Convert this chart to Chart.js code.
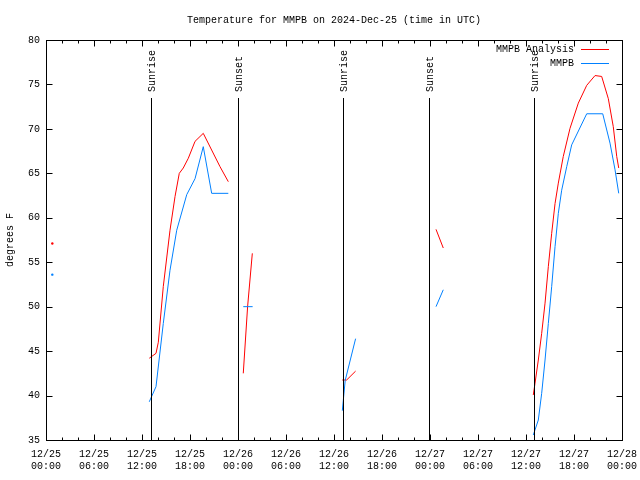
<!DOCTYPE html>
<html>
<head>
<meta charset="utf-8">
<script src="https://cdn.jsdelivr.net/npm/chart.js@4/dist/chart.umd.min.js"></script>
<style>
  html, body { margin: 0; padding: 0; background: #fff; }
  canvas { display: block; }
</style>
</head>
<body>
<canvas id="chart" width="640" height="480"></canvas>
<script>
// hours since 12/25 00:00 UTC; null temperature = gap in the record
const analysisHours = [0.79, 6, 12.91, 13.75, 14.04, 14.66, 15.5, 16.13, 16.66, 17.16,
  17.79, 18.63, 19.66, 21.75, 22.79, 23.5, 24.66, 25.2, 25.79, 30,
  37.04, 37.58, 38.7, 44, 48.75, 49.66, 55, 60.91, 61.13, 61.54,
  61.96, 62.38, 62.79, 63.21, 63.63, 64.04, 64.66, 65.5, 66.54, 67.59,
  68.63, 69.46, 70.29, 70.91, 71.34, 71.59];
const analysisTemps = [57.1, null, 44.2, 44.75, 46.0, 52.25, 58.6, 62.4, 65.0, 65.6,
  66.7, 68.6, 69.5, 65.75, 64.06, null, 42.5, 50.0, 56.0, null,
  41.75, 41.75, 42.75, null, 58.7, 56.6, null, 40.06, 41.4, 44.0,
  47.0, 50.4, 54.5, 58.25, 61.6, 63.9, 66.9, 70.06, 72.9, 74.9,
  76.0, 75.9, 73.4, 70.25, 66.9, 65.6];

const obsHours = [0.79, 6, 12.91, 13.75, 14.66, 15.5, 16.34, 17.59, 18.63, 19.66,
  20.71, 22.79, 23.5, 24.66, 25.83, 30, 37.04, 37.4, 38.7, 44,
  48.75, 49.66, 55, 60.91, 61.54, 61.96, 62.38, 62.79, 63.21, 63.63,
  64.04, 64.46, 65.09, 65.71, 67.59, 69.59, 70.5, 71.13, 71.59];
const obsTemps = [53.6, null, 39.3, 41.0, 48.1, 54.1, 58.6, 62.6, 64.4, 68.0,
  62.75, 62.75, null, 50.0, 50.0, null, 38.3, 41.7, 46.4, null,
  50.0, 51.9, null, 35.56, 37.25, 40.25, 44.0, 48.1, 52.25, 56.75,
  60.5, 63.1, 65.75, 68.2, 71.7, 71.7, 68.4, 65.4, 62.75];

const eventHours = [13.15, 24.03, 37.15, 47.91, 61.05];
const eventNames = ['Sunrise', 'Sunset', 'Sunrise', 'Sunset', 'Sunrise'];

const FONT = { family: "'Liberation Mono', 'DejaVu Sans Mono', monospace", size: 10 };
Chart.defaults.color = '#000';
Chart.defaults.font.family = FONT.family;
Chart.defaults.font.size = FONT.size;

function points(hours, temps) {
  return hours.map((h, i) => ({ x: h, y: temps[i] }));
}

// a lone reading between gaps gets a dot, otherwise no markers
function loneDot(ctx) {
  const d = ctx.dataset.data;
  const i = ctx.dataIndex;
  if (d[i].y == null) return 0;
  const prev = i > 0 ? d[i - 1].y : null;
  const next = i < d.length - 1 ? d[i + 1].y : null;
  return prev == null && next == null ? 1.2 : 0;
}

function tickLabel(v) {
  const day = 25 + Math.floor(v / 24);
  const hr = v % 24;
  return ['12/' + day, String(hr).padStart(2, '0') + ':00'];
}

const frame = {
  id: 'frame',
  afterDatasetsDraw(chart) {
    const { ctx, chartArea: a, scales: { x, y } } = chart;
    ctx.save();
    ctx.strokeStyle = '#000';
    ctx.lineWidth = 1;

    // sunrise / sunset markers
    ctx.fillStyle = '#000';
    ctx.font = FONT.size + 'px ' + FONT.family;
    eventHours.forEach((h, i) => {
      const px = Math.round(x.getPixelForValue(h)) + 0.5;
      ctx.beginPath();
      ctx.moveTo(px, a.top + 58);
      ctx.lineTo(px, a.bottom);
      ctx.stroke();
      ctx.save();
      ctx.translate(px + 1, a.top + 52);
      ctx.rotate(-Math.PI / 2);
      ctx.textAlign = 'left';
      ctx.textBaseline = 'middle';
      ctx.fillText(eventNames[i], 0, 0);
      ctx.restore();
    });

    // border box
    const l = Math.round(a.left) + 0.5, r = Math.round(a.right) + 0.5;
    const t = Math.round(a.top) + 0.5, b = Math.round(a.bottom) + 0.5;
    ctx.strokeRect(l, t, r - l, b - t);

    // inward tick marks, mirrored
    ctx.beginPath();
    for (let h = x.min; h <= x.max; h += 2) {
      const len = h % 6 === 0 ? 6 : 3;
      const px = Math.round(x.getPixelForValue(h)) + 0.5;
      ctx.moveTo(px, b); ctx.lineTo(px, b - len);
      ctx.moveTo(px, t); ctx.lineTo(px, t + len);
    }
    y.ticks.forEach(tk => {
      const py = Math.round(y.getPixelForValue(tk.value)) + 0.5;
      ctx.moveTo(l, py); ctx.lineTo(l + 6, py);
      ctx.moveTo(r, py); ctx.lineTo(r - 6, py);
    });
    ctx.stroke();

    // key, top right inside the plot
    ctx.textAlign = 'right';
    ctx.textBaseline = 'middle';
    chart.data.datasets.forEach((ds, i) => {
      const ry = Math.round(a.top + 9 + i * 14) + 0.5;
      ctx.fillStyle = '#000';
      ctx.fillText(ds.label, a.right - 48, ry);
      ctx.strokeStyle = ds.borderColor;
      ctx.beginPath();
      ctx.moveTo(a.right - 41, ry);
      ctx.lineTo(a.right - 13, ry);
      ctx.stroke();
    });
    ctx.restore();
  }
};

new Chart(document.getElementById('chart'), {
  type: 'line',
  data: {
    datasets: [
      {
        label: 'MMPB Analysis',
        data: points(analysisHours, analysisTemps),
        borderColor: '#ff0000',
        backgroundColor: '#ff0000',
        borderWidth: 1,
        pointRadius: loneDot,
        pointBorderWidth: 0,
        spanGaps: false,
        order: 1
      },
      {
        label: 'MMPB',
        data: points(obsHours, obsTemps),
        borderColor: '#0080ff',
        backgroundColor: '#0080ff',
        borderWidth: 1,
        pointRadius: loneDot,
        pointBorderWidth: 0,
        spanGaps: false,
        order: 0
      }
    ]
  },
  options: {
    responsive: false,
    devicePixelRatio: 1,
    animation: false,
    layout: { padding: { left: 0, right: 18, top: 0, bottom: 0 } },
    plugins: {
      legend: { display: false },
      tooltip: { enabled: false },
      title: {
        display: true,
        text: 'Temperature for MMPB on 2024-Dec-25 (time in UTC)',
        font: { size: 10, weight: 'normal' },
        fullSize: false,
        padding: { top: 14, bottom: 14 }
      }
    },
    scales: {
      x: {
        type: 'linear',
        min: 0,
        max: 72,
        grid: { display: false, drawTicks: false },
        border: { display: false },
        ticks: {
          stepSize: 6,
          autoSkip: false,
          maxRotation: 0,
          padding: 8,
          callback: tickLabel
        },
        afterFit: s => {
          s.height = 40;
          s.paddingLeft = 0;
          s.paddingRight = 0;
        }
      },
      y: {
        min: 35,
        max: 80,
        grid: { display: false, drawTicks: false },
        border: { display: false },
        ticks: { stepSize: 5, padding: 6 },
        title: {
          display: true,
          text: 'degrees F',
          padding: { top: 4, bottom: 0 }
        },
        afterFit: s => {
          s.width = 46;
          s.paddingTop = 0;
          s.paddingBottom = 0;
        }
      }
    }
  },
  plugins: [frame]
});
</script>
</body>
</html>
